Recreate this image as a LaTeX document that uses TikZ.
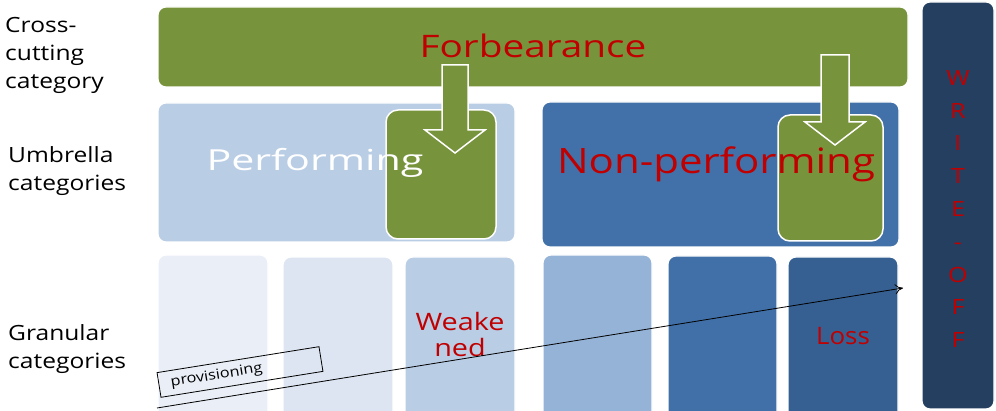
\documentclass[tikz,border=0pt]{standalone}
\usepackage{fontspec}
\setmainfont{Open Sans}
\usetikzlibrary{arrows.meta}

\definecolor{fbgreen}{HTML}{77933C}
\definecolor{fbred}{HTML}{C00000}
\definecolor{perfblue}{HTML}{B9CDE5}
\definecolor{npblue}{HTML}{4271A9}
\definecolor{wonavy}{HTML}{243F60}
\definecolor{granA}{HTML}{EAEFF7}
\definecolor{granB}{HTML}{DCE5F1}
\definecolor{granC}{HTML}{B9CDE5}
\definecolor{granD}{HTML}{95B3D7}
\definecolor{granE}{HTML}{4170A8}
\definecolor{granF}{HTML}{366092}

\begin{document}
\begin{tikzpicture}[x=1pt,y=-1pt,
  box/.style={draw=white, line width=1.2pt, rounded corners=8pt},
  greenbox/.style={draw=white, line width=1.5pt, rounded corners=12pt, fill=fbgreen},
  blockarrow/.style={draw=white, line width=1.5pt, fill=fbgreen},
  rowlabel/.style={anchor=west, align=left, inner sep=0pt, xscale=1.17,
    font=\fontsize{21}{28}\selectfont},
  bigtext/.style={inner sep=0pt}]
\useasboundingbox (0,0) rectangle (996,411);
\clip (0,0) rectangle (996,411);

% row labels
\node[rowlabel] (lcross) at (5,55) {Cross-\\cutting\\category};
\node[rowlabel] (lumbr) at (8,171) {Umbrella\\categories};
\node[rowlabel] (lgran) at (8,349) {Granular\\categories};

% cross-cutting
\draw[box, fill=fbgreen] (158,7) rectangle (908,87);

% umbrella
\draw[box, fill=perfblue] (158,103) rectangle (515,242);
\draw[box, fill=npblue] (542,102) rectangle (899,247);
\draw[greenbox] (386,110) rectangle (496,239);
\draw[greenbox] (778,115) rectangle (883,241);

% forbearance arrows
\draw[blockarrow] (442,65) -- (468,65) -- (468,130) -- (485,130) -- (455,153)
  -- (425,130) -- (442,130) -- cycle;
\draw[blockarrow] (821,55) -- (849,55) -- (849,122) -- (865,122) -- (835,145)
  -- (805,122) -- (821,122) -- cycle;

\node[bigtext, text=fbred, xscale=1.25, font=\fontsize{31}{31}\selectfont] (forb) at (533,46) {Forbearance};
\node[bigtext, text=white, xscale=1.42, font=\fontsize{29}{29}\selectfont] (perf) at (315,163) {Performing};
\node[bigtext, text=fbred, xscale=1.2, font=\fontsize{35}{35}\selectfont] (nonperf) at (716,164) {Non-performing};

% granular
\draw[box, fill=granA] (158,255) rectangle (268,430);
\draw[box, fill=granB] (283,257) rectangle (393,430);
\draw[box, fill=granC] (405,257) rectangle (515,430);
\draw[box, fill=granD] (543,255) rectangle (652,430);
\draw[box, fill=granE] (668,256) rectangle (777,430);
\draw[box, fill=granF] (788,257) rectangle (898,430);

\node[text=fbred, align=center, xscale=1.2, font=\fontsize{24}{26}\selectfont] (weak) at (460,335) {Weake\\ned};
\node[text=fbred, xscale=1.08, font=\fontsize{24}{24}\selectfont] (loss) at (843,336) {Loss};

% write-off
\draw[box, fill=wonavy] (922,2) rectangle (994,409);
\node[text=fbred, align=center, xscale=1.2, font=\fontsize{21}{32.8}\selectfont] (woff) at (958,209)
  {W\\R\\I\\T\\E\\-\\O\\F\\F};

% provisioning
\coordinate (pstart) at (157,408);
\coordinate (pend) at (903,288);
\draw[-{To[length=8pt,width=10pt]}, line width=0.8pt] (pstart) -- (pend);
\node[draw, line width=0.8pt, rotate=9.1, minimum width=164pt, minimum height=25pt,
  text width=140pt, inner xsep=12pt, align=left, font=\fontsize{14}{14}\selectfont]
  (prov) at (240,372) {\scalebox{1.16}[1]{provisioning}};
\end{tikzpicture}
\end{document}
